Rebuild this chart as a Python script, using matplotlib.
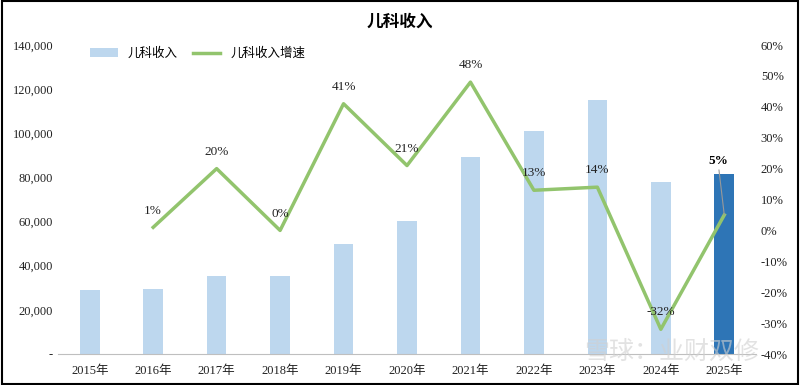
import numpy as np
import matplotlib.pyplot as plt
from matplotlib.ticker import FuncFormatter

plt.rcParams['font.family'] = ['Liberation Serif', 'Noto Sans CJK SC', 'DejaVu Sans']

years = ['2015年', '2016年', '2017年', '2018年', '2019年', '2020年',
         '2021年', '2022年', '2023年', '2024年', '2025年']
revenue = [29000, 29400, 35300, 35300, 49800, 60200, 89200, 101000, 115000, 77900, 81500]
growth = [None, 1, 20, 0, 41, 21, 48, 13, 14, -32, 5]  # %

x = np.arange(len(years))
bar_colors = ['#bdd7ee'] * (len(years) - 1) + ['#2e75b6']

fig = plt.figure(figsize=(8, 3.85), dpi=100)
ax = fig.add_axes([0.0725, 0.0805, 0.8725, 0.8025])
ax2 = ax.twinx()

ax.bar(x, revenue, width=0.31, color=bar_colors, label='儿科收入', zorder=2)
ax.set_xlim(-0.5, len(years) - 0.5)
ax.set_ylim(0, 140000)
ax.set_yticks(np.arange(0, 140001, 20000))
ax.yaxis.set_major_formatter(FuncFormatter(lambda v, p: '-' if v == 0 else f'{int(v):,}'))
ax.set_xticks(x)
ax.set_xticklabels(years)

gx = x[1:]
gy = [g for g in growth[1:]]
ax2.plot(gx, gy, color='#92c46d', lw=2.5, label='儿科收入增速', zorder=3)
ax2.set_ylim(-40, 60)
ax2.set_yticks(np.arange(-40, 61, 10))
ax2.yaxis.set_major_formatter(FuncFormatter(lambda v, p: f'{int(v)}%'))

for xi, g in zip(gx, gy):
    if xi == len(years) - 1:
        continue
    ax2.text(xi, g + 3.5, f'{g}%', ha='center', va='bottom', fontsize=9.5, color='#222222')
# last label with leader line
ax2.annotate(f'{growth[-1]}%', xy=(x[-1], growth[-1]), xytext=(x[-1] - 0.1, 20.5),
             ha='center', va='bottom', fontsize=9.5, fontweight='bold',
             arrowprops=dict(arrowstyle='-', color='#999999', lw=0.8,
                             shrinkA=0, shrinkB=0))

for a in (ax, ax2):
    for s in a.spines.values():
        s.set_visible(False)
    a.tick_params(length=0, labelsize=9, colors='#222222')
ax.spines['bottom'].set_visible(True)
ax.spines['bottom'].set_color('#bfbfbf')
ax.tick_params(axis='x', pad=8)

h1, l1 = ax.get_legend_handles_labels()
h2, l2 = ax2.get_legend_handles_labels()
ax.legend(h1 + h2, l1 + l2, loc='upper left', bbox_to_anchor=(0.03, 1.03), ncol=2,
          frameon=False, handlelength=2.2, columnspacing=1.2,
          prop={'family': ['Noto Sans CJK SC'], 'size': 9})

fig.text(0.5, 0.945, '儿科收入', ha='center', va='center', fontsize=12,
         fontweight='bold', family=['Noto Sans CJK SC'])

fig.text(0.84, 0.085, '雪球：业财双修', ha='center', va='center', fontsize=18,
         color='#d0d0d0', alpha=0.6, family=['Noto Sans CJK SC'], zorder=10)

fig.patches.append(plt.Rectangle((0.002, 0.003), 0.996, 0.994, transform=fig.transFigure,
                                 fill=False, edgecolor='black', lw=1.5))

fig.savefig('out.png', dpi=100)
